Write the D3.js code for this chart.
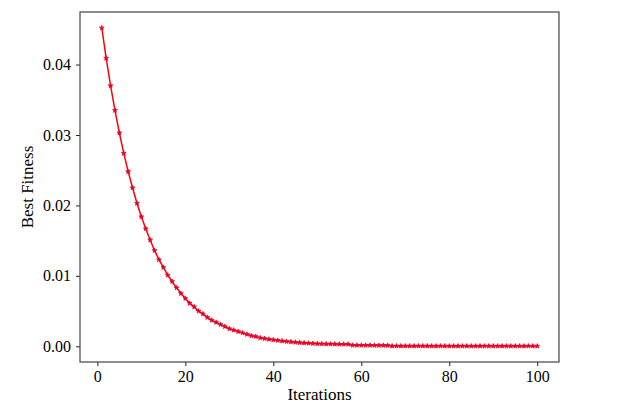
<!DOCTYPE html>
<html>
<head>
<meta charset="utf-8">
<script src="https://cdn.jsdelivr.net/npm/d3@7"></script>
<style>
  html, body { margin: 0; padding: 0; background: #fff; }
  svg { display: block; }
  text { font-family: "Liberation Serif", "Times New Roman", serif; fill: #000; }
</style>
</head>
<body>
<svg id="chart" width="623" height="415"></svg>
<script>
const iterations = d3.range(1, 101);
const bestFitness = [
  0.0452, 0.0409, 0.0370, 0.0335, 0.0303, 0.0274, 0.0248, 0.0225, 0.0203, 0.0184,
  0.0167, 0.0151, 0.0136, 0.0123, 0.0112, 0.0101, 0.0092, 0.0083, 0.0075, 0.0068,
  0.0061, 0.0056, 0.0050, 0.0046, 0.0041, 0.0037, 0.0034, 0.0031, 0.0028, 0.0025,
  0.0023, 0.0021, 0.0019, 0.0017, 0.0015, 0.0014, 0.0012, 0.0011, 0.0010, 0.00092,
  0.00084, 0.00076, 0.00069, 0.00063, 0.00057, 0.00052, 0.00048, 0.00044, 0.00040, 0.00037,
  0.00035, 0.00033, 0.00032, 0.00031, 0.00030, 0.00030, 0.00029, 0.00015, 0.00015, 0.00014,
  0.00014, 0.00014, 0.00013, 0.00013, 0.00013, 0.00013, 0.00004, 0.00004, 0.00004, 0.00004,
  0.00004, 0.00004, 0.00004, 0.00004, 0.00004, 0.00003, 0.00003, 0.00003, 0.00003, 0.00003,
  0.00003, 0.00003, 0.00003, 0.00003, 0.00003, 0.00003, 0.00003, 0.00003, 0.00003, 0.00003,
  0.00003, 0.00003, 0.00003, 0.00003, 0.00003, 0.00003, 0.00003, 0.00003, 0.00003, 0.00003
];
const xTicks = [0, 20, 40, 60, 80, 100];
const yTicks = [0.00, 0.01, 0.02, 0.03, 0.04];
const xLabel = "Iterations";
const yLabel = "Best Fitness";

const svg = d3.select("#chart");
const L = 80, R = 559, T = 12, B = 362;

const xMin = d3.min(iterations), xMax = d3.max(iterations);
const xPad = (xMax - xMin) * 0.05;
const x = d3.scaleLinear().domain([xMin - xPad, xMax + xPad]).range([L, R]);

const yMinV = d3.min(bestFitness), yMaxV = d3.max(bestFitness);
const yPad = (yMaxV - yMinV) * 0.05;
const y = d3.scaleLinear().domain([yMinV - yPad, yMaxV + yPad]).range([B, T]);

const data = iterations.map((it, i) => ({ x: it, y: bestFitness[i] }));

// Axes
const xAxis = svg.append("g").attr("transform", `translate(0,${B})`)
  .call(d3.axisBottom(x).tickValues(xTicks).tickSize(4).tickPadding(5).tickFormat(d3.format("d")));
const yAxis = svg.append("g").attr("transform", `translate(${L},0)`)
  .call(d3.axisLeft(y).tickValues(yTicks).tickSize(4).tickPadding(5).tickFormat(d3.format(".2f")));

[xAxis, yAxis].forEach(g => {
  g.select(".domain").remove();
  g.selectAll(".tick line").attr("stroke", "#222").attr("stroke-width", 1);
  g.selectAll(".tick text").attr("font-size", 16).attr("font-family", '"Liberation Serif", serif').attr("fill", "#000");
});

// Frame
svg.append("rect")
  .attr("x", L).attr("y", T).attr("width", R - L).attr("height", B - T)
  .attr("fill", "none").attr("stroke", "#444").attr("stroke-width", 1.2);

// Line
svg.append("path")
  .datum(data)
  .attr("fill", "none")
  .attr("stroke", "#ff0000")
  .attr("stroke-width", 1.5)
  .attr("d", d3.line().x(d => x(d.x)).y(d => y(d.y)));

// Markers
svg.append("g").selectAll("path")
  .data(data)
  .join("path")
  .attr("transform", d => `translate(${x(d.x)},${y(d.y)})`)
  .attr("d", d3.symbol().type(d3.symbolStar).size(7))
  .attr("fill", "#e8002a")
  .attr("stroke", "#e8002a")
  .attr("stroke-width", 0.8);

// Labels
svg.append("text")
  .attr("x", (L + R) / 2).attr("y", 400)
  .attr("text-anchor", "middle").attr("font-size", 17)
  .text(xLabel);
svg.append("text")
  .attr("transform", `translate(33,${(T + B) / 2}) rotate(-90)`)
  .attr("text-anchor", "middle").attr("font-size", 17)
  .text(yLabel);
</script>
</body>
</html>
